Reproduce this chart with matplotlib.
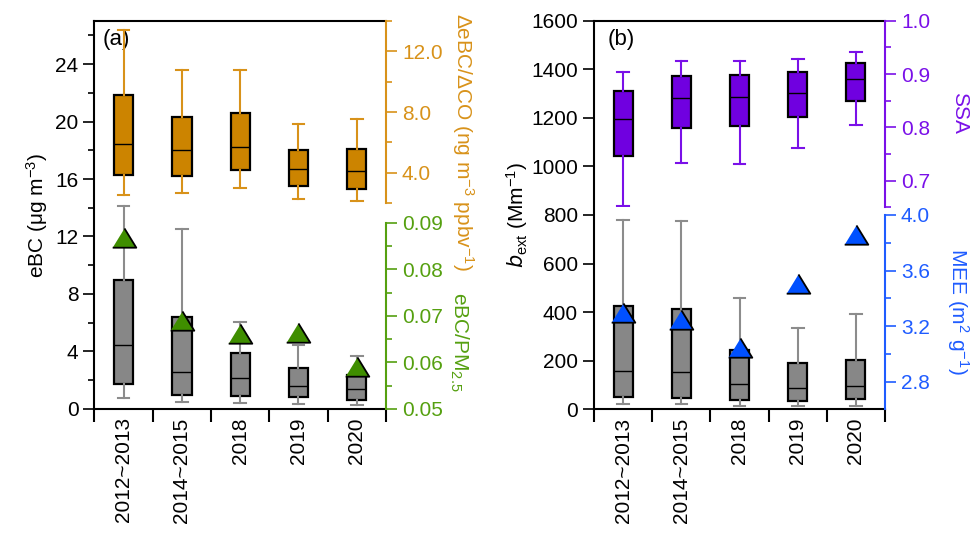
import matplotlib
matplotlib.use("Agg")
import matplotlib.pyplot as plt
import numpy as np

plt.rcParams['font.family'] = ['Liberation Sans', 'DejaVu Sans']
plt.rcParams['mathtext.default'] = 'regular'

# categories
periods = ["2012~2013", "2014~2015", "2018", "2019", "2020"]

# (a) eBC box stats (ug m-3): whisker low, q1, median, q3, whisker high
ebc_lo = [0.77, 0.49, 0.39, 0.35, 0.28]
ebc_q1 = [1.74, 0.97, 0.88, 0.81, 0.65]
ebc_med = [4.48, 2.55, 2.13, 1.62, 1.41]
ebc_q3 = [9.0, 6.38, 3.90, 2.85, 2.39]
ebc_hi = [14.14, 12.5, 6.05, 4.43, 3.71]

# (a) dEBC/dCO box stats
rat_lo = [2.52, 2.70, 3.01, 2.30, 2.17]
rat_q1 = [3.87, 3.82, 4.18, 3.14, 2.96]
rat_med = [5.90, 5.50, 5.72, 4.22, 4.11]
rat_q3 = [9.11, 7.70, 7.97, 5.48, 5.56]
rat_hi = [13.43, 10.79, 10.79, 7.22, 7.55]

# (a) eBC/PM2.5
ebc_pm = [0.0868, 0.0689, 0.0661, 0.0663, 0.0591]

# (b) bext box stats (Mm-1)
bext_lo = [22, 22, 15, 15, 15]
bext_q1 = [49, 45, 38, 34, 41]
bext_med = [159, 155, 106, 88, 96]
bext_q3 = [425, 413, 244, 189, 204]
bext_hi = [779, 775, 457, 333, 392]

# (b) SSA box stats
ssa_lo = [0.653, 0.734, 0.732, 0.762, 0.805]
ssa_q1 = [0.746, 0.798, 0.803, 0.819, 0.849]
ssa_med = [0.815, 0.855, 0.857, 0.864, 0.890]
ssa_q3 = [0.868, 0.896, 0.898, 0.903, 0.921]
ssa_hi = [0.904, 0.925, 0.925, 0.929, 0.941]

# (b) MEE (m2 g-1)
mee = [3.295, 3.245, 3.044, 3.503, 3.859]

ORANGE = '#CC8400'
ORANGE_AX = '#D8921A'
GREEN = '#3F8E00'
GREEN_AX = '#55A010'
GRAY = '#878787'
GRAY_W = '#8C8C8C'
PURPLE = '#7000E0'
PURPLE_AX = '#7A10E8'
BLUE = '#0050FF'
BLUE_AX = '#1F5CFF'

FS = 15     # tick labels
LFS = 15    # axis titles
tri = [(-1, -0.78), (1, -0.78), (0, 0.85)]


def stats(lo, q1, med, q3, hi):
    return [dict(whislo=a, q1=b, med=c, q3=d, whishi=e, fliers=[])
            for a, b, c, d, e in zip(lo, q1, med, q3, hi)]


def boxes(ax, st, fill, wcol):
    ax.bxp(st, positions=range(5), widths=0.33, capwidths=0.2, patch_artist=True,
           showfliers=False,
           boxprops=dict(facecolor=fill, edgecolor='black', linewidth=1.6),
           medianprops=dict(color='black', linewidth=1.0),
           whiskerprops=dict(color=wcol, linewidth=1.5),
           capprops=dict(color=wcol, linewidth=1.5))


def main_axes(ax):
    ax.set_xlim(-0.5, 4.5)
    ax.spines['right'].set_visible(False)
    for s in ['left', 'top', 'bottom']:
        ax.spines[s].set_linewidth(1.5)
    ax.set_xticks(range(5))
    ax.set_xticklabels(periods, rotation=90, fontsize=FS)
    ax.tick_params(axis='x', which='major', length=0, pad=6)
    ax.set_xticks(np.arange(-0.5, 5, 1), minor=True)
    ax.tick_params(axis='x', which='minor', length=9, width=1.5, direction='out')
    ax.tick_params(axis='y', which='major', length=8, width=1.2, labelsize=FS)
    ax.tick_params(axis='y', which='minor', length=4.5, width=1.2)


def side_axes(fig, rect, col):
    a = fig.add_axes(rect)
    a.patch.set_visible(False)
    a.set_xlim(-0.5, 4.5)
    for s in ['left', 'top', 'bottom']:
        a.spines[s].set_visible(False)
    a.spines['right'].set_color(col)
    a.spines['right'].set_linewidth(1.5)
    a.set_xticks([])
    a.yaxis.tick_right()
    a.tick_params(axis='y', which='major', colors=col, length=8, width=1.2, labelsize=FS)
    a.tick_params(axis='y', which='minor', colors=col, length=4.5, width=1.2)
    return a


fig = plt.figure(figsize=(9.78, 5.36), dpi=100)

# ---------------- panel (a)
axa = fig.add_axes([0.0966, 0.237, 0.298, 0.724])
boxes(axa, stats(ebc_lo, ebc_q1, ebc_med, ebc_q3, ebc_hi), GRAY, GRAY_W)
main_axes(axa)
axa.set_ylim(0, 27)
axa.set_yticks(np.arange(0, 25, 4))
axa.set_yticks(np.arange(2, 27, 4), minor=True)
axa.set_ylabel('eBC (μg m$^{-3}$)', fontsize=LFS, labelpad=4)
axa.text(0.027, 0.978, '(a)', transform=axa.transAxes, fontsize=16, va='top')

axo = side_axes(fig, [0.0966, 0.621, 0.298, 0.3396], ORANGE_AX)
boxes(axo, stats(rat_lo, rat_q1, rat_med, rat_q3, rat_hi), ORANGE, ORANGE_AX)
axo.set_xticks([])
axo.set_ylim(2, 14)
axo.set_yticks([4, 8, 12])
axo.set_yticklabels(['4.0', '8.0', '12.0'])
axo.set_yticks([2, 6, 10, 14], minor=True)

axg = side_axes(fig, [0.0966, 0.237, 0.298, 0.3476], GREEN_AX)
axg.plot(range(5), ebc_pm, linestyle='none', marker=tri, markersize=17,
         markerfacecolor=GREEN, markeredgecolor='black', markeredgewidth=1.3)
axg.set_ylim(0.05, 0.09)
axg.set_yticks([0.05, 0.06, 0.07, 0.08, 0.09])
axg.set_yticklabels(['0.05', '0.06', '0.07', '0.08', '0.09'])
axg.set_yticks([0.055, 0.065, 0.075, 0.085], minor=True)

fig.text(0.473, 0.735, 'ΔeBC/ΔCO (ng m$^{-3}$ ppbv$^{-1}$)', rotation=270,
         color=ORANGE_AX, fontsize=LFS, ha='center', va='center')
fig.text(0.469, 0.362, 'eBC/PM$_{2.5}$', rotation=270,
         color=GREEN_AX, fontsize=LFS, ha='center', va='center')

# ---------------- panel (b)
axb = fig.add_axes([0.6074, 0.2364, 0.2975, 0.7250])
boxes(axb, stats(bext_lo, bext_q1, bext_med, bext_q3, bext_hi), GRAY, GRAY_W)
main_axes(axb)
axb.set_ylim(0, 1600)
axb.set_yticks(np.arange(0, 1601, 200))
axb.set_ylabel('$\\mathit{b}_{ext}$ (Mm$^{-1}$)', fontsize=LFS, labelpad=1)
axb.text(0.045, 0.978, '(b)', transform=axb.transAxes, fontsize=16, va='top')

axp = side_axes(fig, [0.6074, 0.6133, 0.2975, 0.348], PURPLE_AX)
boxes(axp, stats(ssa_lo, ssa_q1, ssa_med, ssa_q3, ssa_hi), PURPLE, PURPLE_AX)
axp.set_xticks([])
axp.set_ylim(0.65, 1.0)
axp.set_yticks([0.7, 0.8, 0.9, 1.0])
axp.set_yticklabels(['0.7', '0.8', '0.9', '1.0'])
axp.set_yticks([0.65, 0.75, 0.85, 0.95], minor=True)

axm = side_axes(fig, [0.6074, 0.2364, 0.2975, 0.3625], BLUE_AX)
axm.plot(range(5), mee, linestyle='none', marker=tri, markersize=17,
         markerfacecolor=BLUE, markeredgecolor='black', markeredgewidth=1.3)
axm.set_ylim(2.6, 4.0)
axm.set_yticks([2.8, 3.2, 3.6, 4.0])
axm.set_yticklabels(['2.8', '3.2', '3.6', '4.0'])
axm.set_yticks([3.0, 3.4, 3.8], minor=True)

fig.text(0.981, 0.789, 'SSA', rotation=270, color=PURPLE_AX, fontsize=LFS,
         ha='center', va='center')
fig.text(0.979, 0.42, 'MEE (m$^{2}$ g$^{-1}$)', rotation=270, color=BLUE_AX,
         fontsize=LFS, ha='center', va='center')

fig.savefig('out.png', dpi=100)
